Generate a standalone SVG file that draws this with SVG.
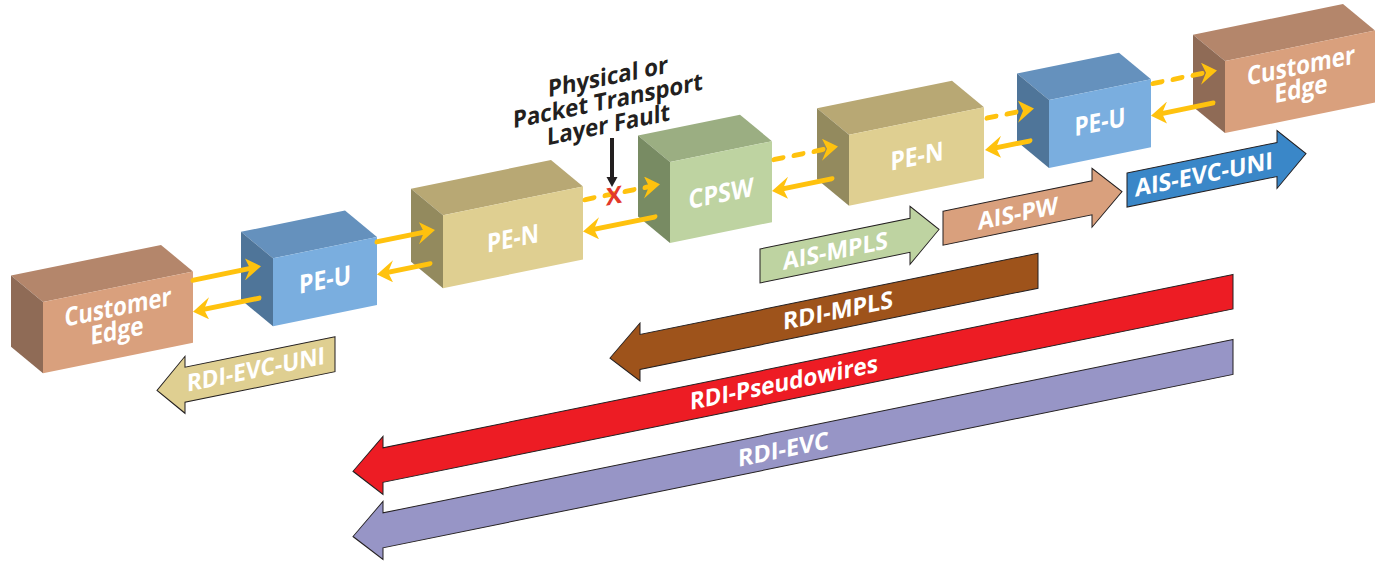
<svg xmlns="http://www.w3.org/2000/svg" width="1383" height="563" viewBox="0 0 1383 563">
<style>
.lbl{font-family:"Open Sans","Liberation Sans",sans-serif;font-weight:700;fill:#ffffff;text-anchor:middle}
.bl{font-size:26px}
.al{font-size:24px}
.flt{font-family:"Open Sans","Liberation Sans",sans-serif;font-weight:700;fill:#231f20;text-anchor:middle;font-size:24px}
.ce .f{fill:#d9a07d}.ce .t{fill:#b4866b}.ce .s{fill:#8f6b56}
.pu .f{fill:#7aaedf}.pu .t{fill:#6591bd}.pu .s{fill:#4f7599}
.pn .f{fill:#dfcf91}.pn .t{fill:#b8a874}.pn .s{fill:#938a5e}
.cp .f{fill:#bed3a1}.cp .t{fill:#9bae82}.cp .s{fill:#788b63}
.y{fill:none;stroke:#ffc20e;stroke-width:5;stroke-linecap:round;marker-end:url(#ah)}
.d{stroke-dasharray:9 11}
.big{stroke:#231f20;stroke-width:1}
</style>
<defs>
<marker id="ah" viewBox="-6 -11 16 22" refX="0" refY="0" markerWidth="16" markerHeight="22" markerUnits="userSpaceOnUse" orient="auto">
<path d="M10,0 L-6,-11 L-1,0 L-6,11 Z" fill="#ffc20e"/>
</marker>
</defs>
<g transform="matrix(1,-0.204,0,1,0,0)">
<g id="ce-left" class="ce">
<polygon class="t" points="11,277.8 161,277.8 193,310.8 43,310.8"/>
<polygon class="s" points="11,277.8 43,310.8 43,382 11,349"/>
<rect class="f" x="43" y="310.8" width="150" height="71.2"/>
<text class="lbl bl" x="118" y="340" textLength="107" lengthAdjust="spacingAndGlyphs">Customer</text>
<text class="lbl bl" x="117" y="363.5" textLength="53" lengthAdjust="spacingAndGlyphs">Edge</text>
</g>
<g id="pe-u-left" class="pu">
<polygon class="t" points="241,281 345,281 377,314 273,314"/>
<polygon class="s" points="241,281 273,314 273,382 241,349"/>
<rect class="f" x="273" y="314" width="104" height="68"/>
<text class="lbl bl" x="325" y="355" textLength="52" lengthAdjust="spacingAndGlyphs">PE-U</text>
</g>
<g id="pe-n-left" class="pn">
<polygon class="t" points="411,272.5 551,272.5 583,305.5 443,305.5"/>
<polygon class="s" points="411,272.5 443,305.5 443,378.5 411,345.5"/>
<rect class="f" x="443" y="305.5" width="140" height="73"/>
<text class="lbl bl" x="513" y="352" textLength="52" lengthAdjust="spacingAndGlyphs">PE-N</text>
</g>
<g id="cpsw" class="cp">
<polygon class="t" points="638,265.7 740,265.7 772,298.7 670,298.7"/>
<polygon class="s" points="638,265.7 670,298.7 670,379.7 638,346.7"/>
<rect class="f" x="670" y="298.7" width="102" height="81"/>
<text class="lbl bl" x="721" y="349.5" textLength="65" lengthAdjust="spacingAndGlyphs">CPSW</text>
</g>
<g id="pe-n-right" class="pn">
<polygon class="t" points="817,275 952,275 984,308 849,308"/>
<polygon class="s" points="817,275 849,308 849,379 817,346"/>
<rect class="f" x="849" y="308" width="135" height="71"/>
<text class="lbl bl" x="917" y="352.3" textLength="53" lengthAdjust="spacingAndGlyphs">PE-N</text>
</g>
<g id="pe-u-right" class="pu">
<polygon class="t" points="1017,281 1119,281 1151,314 1049,314"/>
<polygon class="s" points="1017,281 1049,314 1049,382 1017,349"/>
<rect class="f" x="1049" y="314" width="102" height="68"/>
<text class="lbl bl" x="1100" y="355.5" textLength="51" lengthAdjust="spacingAndGlyphs">PE-U</text>
</g>
<g id="ce-right" class="ce">
<polygon class="t" points="1193,278 1343,278 1375,311 1225,311"/>
<polygon class="s" points="1193,278 1225,311 1225,383 1193,350"/>
<rect class="f" x="1225" y="311" width="150" height="72"/>
<text class="lbl bl" x="1301" y="339.8" textLength="108" lengthAdjust="spacingAndGlyphs">Customer</text>
<text class="lbl bl" x="1301" y="363.2" textLength="53" lengthAdjust="spacingAndGlyphs">Edge</text>
</g>
<g id="connectors">
<path class="y" d="M193,319.5 H251"/>
<path class="y" d="M377,318.7 H425"/>
<path class="y d" d="M585,319 H650"/>
<path class="y d" d="M774,317.5 H828"/>
<path class="y d" d="M987,319.4 H1024"/>
<path class="y d" d="M1153,318.7 H1207"/>
<path class="y" d="M259,351 H203"/>
<path class="y" d="M430,351.5 H387"/>
<path class="y" d="M655,350.5 H593"/>
<path class="y" d="M832,348.5 H782"/>
<path class="y" d="M1030,351 H995"/>
<path class="y" d="M1213,350.5 H1161"/>
<text x="614" y="329.5" font-family="Open Sans, Liberation Sans, sans-serif" font-weight="700" font-size="24" fill="#e2382a" text-anchor="middle">X</text>
</g>
<g id="fault-label">
<text class="flt" x="608" y="209" textLength="120" lengthAdjust="spacingAndGlyphs">Physical or</text>
<text class="flt" x="608" y="233" textLength="190" lengthAdjust="spacingAndGlyphs">Packet Transport</text>
<text class="flt" x="608.5" y="257" textLength="123" lengthAdjust="spacingAndGlyphs">Layer Fault</text>
</g>
<g id="rdi-evc-uni">
<path class="big" fill="#dfcf91" d="M335,405 L185,405 L185,394 L157,422.5 L185,451 L185,440 L335,440 Z"/>
<text class="lbl al" x="256" y="430" textLength="138" lengthAdjust="spacingAndGlyphs">RDI-EVC-UNI</text>
</g>
<g id="ais-mpls">
<path class="big" fill="#bed3a1" d="M760,404 L910,404 L910,392 L939,421 L910,450 L910,438 L760,438 Z"/>
<text class="lbl al" x="835.5" y="429.7" textLength="105" lengthAdjust="spacingAndGlyphs">AIS-MPLS</text>
</g>
<g id="ais-pw">
<path class="big" fill="#d9a07d" d="M943,403.5 L1092,403.5 L1092,391 L1122,420.5 L1092,450 L1092,437.5 L943,437.5 Z"/>
<text class="lbl al" x="1018" y="429.5" textLength="80" lengthAdjust="spacingAndGlyphs">AIS-PW</text>
</g>
<g id="ais-evc-uni">
<path class="big" fill="#3a87c8" d="M1127,403 L1277,403 L1277,391 L1306,420 L1277,449 L1277,437 L1127,437 Z"/>
<text class="lbl al" x="1204" y="428.4" textLength="138" lengthAdjust="spacingAndGlyphs">AIS-EVC-UNI</text>
</g>
<g id="rdi-mpls">
<path class="big" fill="#9e531b" d="M1038,465 L640,465 L640,453.5 L610,482.5 L640,511.5 L640,500 L1038,500 Z"/>
<text class="lbl al" x="838" y="489.8" textLength="110" lengthAdjust="spacingAndGlyphs">RDI-MPLS</text>
</g>
<g id="rdi-pseudowires">
<path class="big" fill="#ed1c24" d="M1233,526 L383,526 L383,514.5 L353,543.3 L383,572.5 L383,560.5 L1233,560.5 Z"/>
<text class="lbl al" x="784" y="550.8" textLength="188" lengthAdjust="spacingAndGlyphs">RDI-Pseudowires</text>
</g>
<g id="rdi-evc">
<path class="big" fill="#9795c6" d="M1233,591 L383,591 L383,579.5 L353,608.5 L383,637.5 L383,626 L1233,626 Z"/>
<text class="lbl al" x="783.5" y="617.5" textLength="91" lengthAdjust="spacingAndGlyphs">RDI-EVC</text>
</g>
</g>
<g id="fault-arrow">
<line x1="612" y1="138" x2="612" y2="179" stroke="#231f20" stroke-width="4"/>
<polygon points="606.5,177 617.5,177 612,187" fill="#231f20"/>
</g>
</svg>
